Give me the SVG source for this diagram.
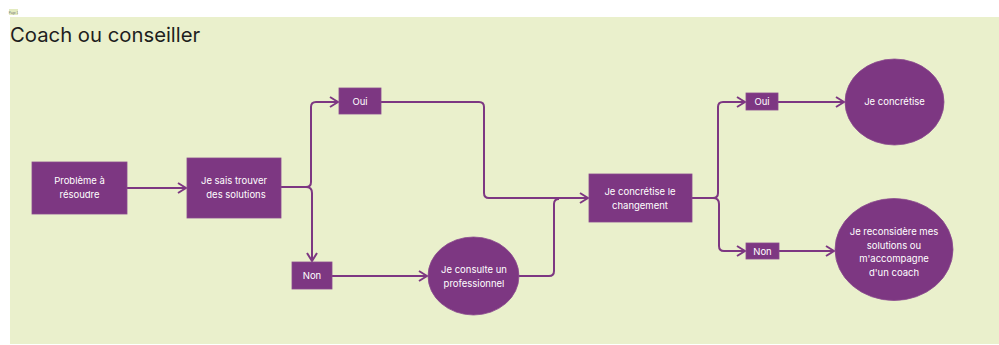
<svg xmlns="http://www.w3.org/2000/svg" width="999" height="345" viewBox="0 0 999 345">
<defs>
<style>
.bg{fill:#eaf0cc}
.node{fill:#7d3782;stroke:#8a4a8e;stroke-width:0.8}
.lbl{font-family:Inter,"Liberation Sans",sans-serif;font-size:9.5px;fill:#ffffff;text-anchor:middle}
.edge{fill:none;stroke:#7d3782;stroke-width:2;stroke-linejoin:round}
.title{font-family:Inter,"Liberation Sans",sans-serif;font-size:20.3px;fill:#1e1e1e}
</style>
<marker id="arr" viewBox="0 0 10 12" refX="9" refY="6" markerWidth="10" markerHeight="12" markerUnits="userSpaceOnUse" orient="auto">
<path d="M1,1 L9,6 L1,11" fill="none" stroke="#7d3782" stroke-width="2"/>
</marker>
</defs>
<rect x="0" y="0" width="999" height="345" fill="#ffffff"/>
<rect class="bg" x="10" y="17" width="989" height="327"/>
<rect x="9" y="9" width="9" height="6" fill="#e3ebc0"/>
<text x="13.5" y="13.5" font-family="Liberation Sans, sans-serif" font-size="3" fill="#777" text-anchor="middle">Page 1</text>
<text class="title" x="10" y="42">Coach ou conseiller</text>

<g id="connectors">
<path class="edge" d="M127,188 H186" marker-end="url(#arr)"/>
<path class="edge" d="M281,187 H306 Q311,187 311,182 V107 Q311,102 316,102 H338" marker-end="url(#arr)"/>
<path class="edge" d="M306,187 Q312,187 312,193 V261" marker-end="url(#arr)"/>
<path class="edge" d="M381,102 H479 Q484,102 484,107 V193 Q484,198 489,198 H588" marker-end="url(#arr)"/>
<path class="edge" d="M332,276 H427" marker-end="url(#arr)"/>
<path class="edge" d="M519,276 H549 Q554,276 554,271 V204 Q554,199 559,199"/>
<path class="edge" d="M692,198 H713 Q718,198 718,193 V107 Q718,102 723,102 H745" marker-end="url(#arr)"/>
<path class="edge" d="M713,198 Q719,198 719,204 V246 Q719,251 724,251 H745" marker-end="url(#arr)"/>
<path class="edge" d="M778,102 H844" marker-end="url(#arr)"/>
<path class="edge" d="M779,251 H834" marker-end="url(#arr)"/>
</g>

<g id="probleme">
<rect class="node" x="32" y="162" width="95" height="52"/>
<text class="lbl" x="79.5" y="184">Problème à</text>
<text class="lbl" x="79.5" y="198">résoudre</text>
</g>
<g id="je-sais">
<rect class="node" x="187" y="158" width="94" height="60"/>
<text class="lbl" x="234" y="184">Je sais trouver</text>
<text class="lbl" x="236" y="198">des solutions</text>
</g>
<g id="oui1">
<rect class="node" x="339" y="88" width="42" height="26"/>
<text class="lbl" x="360" y="105">Oui</text>
</g>
<g id="non1">
<rect class="node" x="292" y="262" width="40" height="27"/>
<text class="lbl" x="312" y="279">Non</text>
</g>
<g id="consulte">
<ellipse class="node" cx="473.5" cy="276" rx="45.5" ry="39"/>
<text class="lbl" x="474" y="273">Je consulte un</text>
<text class="lbl" x="474" y="287">professionnel</text>
</g>
<g id="changement">
<rect class="node" x="589" y="174" width="103" height="48"/>
<text class="lbl" x="640" y="195">Je concrétise le</text>
<text class="lbl" x="640" y="209">changement</text>
</g>
<g id="oui2">
<rect class="node" x="746" y="93" width="32" height="17"/>
<text class="lbl" x="762" y="105">Oui</text>
</g>
<g id="non2">
<rect class="node" x="746" y="243" width="33" height="16"/>
<text class="lbl" x="762.5" y="255">Non</text>
</g>
<g id="concretise">
<ellipse class="node" cx="894.5" cy="102" rx="49.5" ry="43"/>
<text class="lbl" x="894.5" y="105">Je concrétise</text>
</g>
<g id="reconsidere">
<ellipse class="node" cx="894" cy="249.5" rx="59" ry="51"/>
<text class="lbl" x="894" y="235">Je reconsidère mes</text>
<text class="lbl" x="894" y="248.5">solutions ou</text>
<text class="lbl" x="894" y="262">m'accompagne</text>
<text class="lbl" x="894" y="275.5">d'un coach</text>
</g>
</svg>
